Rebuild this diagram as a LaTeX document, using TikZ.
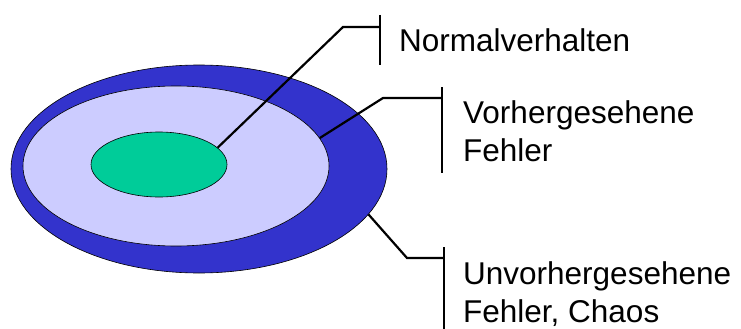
\documentclass[tikz,border=0pt]{standalone}
\usepackage{fontspec}
\setmainfont{Liberation Sans}
\usepackage{xcolor}
\usepackage{tikz}
\usetikzlibrary{shapes.geometric}

\definecolor{chaosblue}{HTML}{3333CC}
\definecolor{expectblue}{HTML}{CCCCFF}
\definecolor{normalgreen}{HTML}{00CC99}

\begin{document}
\begin{tikzpicture}[
    x=1pt, y=-1pt,
    zone/.style={ellipse, draw=black, line width=0.6pt, inner sep=0pt},
    leader/.style={draw=black, line width=2.2pt},
    bar/.style={draw=black, line width=2pt},
    label/.style={anchor=base west, inner sep=0pt, align=left, font=\fontsize{31.5}{38}\selectfont}
]
    \useasboundingbox (0,0) rectangle (741,329);

    % Zones
    \node[zone, fill=chaosblue, minimum width=376pt, minimum height=208pt] (chaos) at (199,169) {};
    \node[zone, fill=expectblue, minimum width=306pt, minimum height=160pt] (expect) at (176,166) {};
    \node[zone, fill=normalgreen, minimum width=136pt, minimum height=65pt] (normal) at (159,164.5) {};

    % Bends and bars
    \coordinate (bn) at (343,27);
    \coordinate (be) at (383,98);
    \coordinate (bc) at (407,258);
    \coordinate (nt) at (380,15);  \coordinate (nb) at (380,65);
    \coordinate (et) at (442,87);  \coordinate (eb) at (442,173);
    \coordinate (ct) at (444,247); \coordinate (cb) at (444,329);

    % Labels (base = last line)
    \node[label] (ln) at (399,52) {Normalverhalten};
    \node[label] (le) at (463,161) {Vorhergesehene\\Fehler};
    \node[label] (lc) at (463,322) {Unvorhergesehene\\Fehler, Chaos};

    % Leaders
    \draw[leader] (normal.16) -- (bn) -- (bn -| nt);
    \draw[leader] (expect.11) -- (be) -- (be -| et);
    \draw[leader] (chaos.-15) -- (bc) -- (bc -| ct);
    \draw[bar] (nt) -- (nb);
    \draw[bar] (et) -- (eb);
    \draw[bar] (ct) -- (cb);

\end{tikzpicture}
\end{document}
